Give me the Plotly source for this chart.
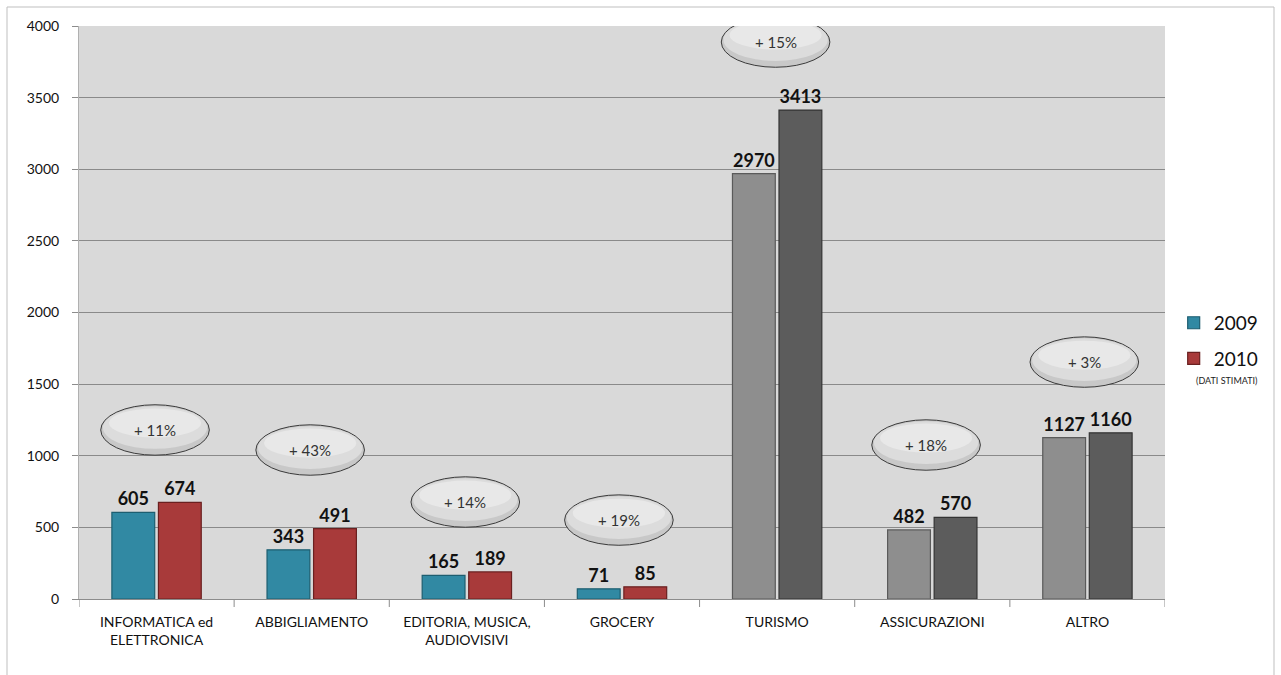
import plotly.graph_objects as go

categories = ["INFORMATICA ed<br>ELETTRONICA", "ABBIGLIAMENTO", "EDITORIA, MUSICA,<br>AUDIOVISIVI",
              "GROCERY", "TURISMO", "ASSICURAZIONI", "ALTRO"]
values_2009 = [605, 343, 165, 71, 2970, 482, 1127]
values_2010 = [674, 491, 189, 85, 3413, 570, 1160]
growth_labels = ["+ 11%", "+ 43%", "+ 14%", "+ 19%", "+ 15%", "+ 18%", "+ 3%"]
y_ticks = [0, 500, 1000, 1500, 2000, 2500, 3000, 3500, 4000]

# bubble centres (layout positions, in category index / axis units)
bubble_x = [-0.01, -0.01, -0.01, -0.02, -0.01, -0.04, -0.02]
bubble_y = [1180, 1040, 677, 551, 3888, 1075, 1654]

col09 = ["#3189a3"] * 4 + ["#8e8e8e"] * 3
col10 = ["#a83a3a"] * 4 + ["#5c5c5c"] * 3
edge09 = ["#1d5e70"] * 4 + ["#5a5a5a"] * 3
edge10 = ["#6a2020"] * 4 + ["#333333"] * 3

FONT = "Lato"
PW = 1086.0
PH = 573.0

fig = go.Figure()
fig.add_trace(go.Bar(
    x=list(range(len(categories))), y=values_2009, name="2009",
    marker=dict(color=col09, line=dict(color=edge09, width=1.2)),
    text=["<b>%d</b>" % v for v in values_2009], textposition="outside",
    textfont=dict(family=FONT, size=18, color="#111111"),
    cliponaxis=False, legendgroup="a",
))
fig.add_trace(go.Bar(
    x=list(range(len(categories))), y=values_2010, name="2010",
    marker=dict(color=col10, line=dict(color=edge10, width=1.2)),
    text=["<b>%d</b>" % v for v in values_2010], textposition="outside",
    textfont=dict(family=FONT, size=18, color="#111111"),
    cliponaxis=False, legendgroup="b",
))

shapes = []
annotations = []
hw, hh = 0.35, 176
for i, (lab, bx, by) in enumerate(zip(growth_labels, bubble_x, bubble_y)):
    cx = i + bx
    shapes.append(dict(type="circle", xref="x", yref="y", x0=cx - hw, x1=cx + hw,
                       y0=by - hh, y1=by + hh, fillcolor="#c8c8c8",
                       line=dict(color="#3a3a3a", width=1), layer="above"))
    shapes.append(dict(type="circle", xref="x", yref="y", x0=cx - hw * 0.96, x1=cx + hw * 0.96,
                       y0=by - hh * 0.75, y1=by + hh * 0.94, fillcolor="#dcdcdc",
                       line=dict(width=0), layer="above"))
    shapes.append(dict(type="circle", xref="x", yref="y", x0=cx - hw * 0.85, x1=cx + hw * 0.85,
                       y0=by - hh * 0.3, y1=by + hh * 0.85, fillcolor="#e8e8e8",
                       line=dict(width=0), layer="above"))
    annotations.append(dict(x=cx, y=by, xref="x", yref="y", text=lab, showarrow=False,
                            font=dict(family=FONT, size=15, color="#333333")))

# outer frame
shapes.append(dict(type="rect", xref="paper", yref="paper", x0=-72 / PW, x1=(1274 - 79) / PW,
                   y0=-1.2, y1=1.0 + 19 / PH, line=dict(color="#bfbfbf", width=1), layer="below"))

annotations.append(dict(x=(1226 - 79) / PW, y=(599 - 380) / PH, xref="paper", yref="paper",
                        xanchor="center", yanchor="middle",
                        text="(DATI STIMATI)", showarrow=False,
                        font=dict(family=FONT, size=9, color="#222222")))

fig.update_layout(
    width=1281, height=675,
    margin=dict(l=79, r=116, t=26, b=76, autoexpand=False),
    paper_bgcolor="white", plot_bgcolor="#d9d9d9",
    barmode="group", bargap=0.4, bargroupgap=0.08,
    font=dict(family=FONT, size=14, color="#111111"),
    showlegend=True,
    legend=dict(x=1.008, y=0.515, xanchor="left", yanchor="top",
                font=dict(family=FONT, size=19, color="#111111"),
                traceorder="grouped", tracegroupgap=8, bgcolor="rgba(0,0,0,0)"),
    shapes=shapes,
    annotations=annotations,
    xaxis=dict(tickmode="array", tickvals=list(range(len(categories))), ticktext=categories,
               range=[-0.5, len(categories) - 0.5], showgrid=False, showline=True,
               linecolor="#8c8c8c", linewidth=1, ticks="", zeroline=False,
               ticklabelstandoff=10,
               tickfont=dict(family=FONT, size=14, color="#111111")),
    yaxis=dict(range=[0, 4000], tickvals=y_ticks, showgrid=True, gridcolor="#8a8a8a", gridwidth=1,
               showline=True, linecolor="#b0b0b0", ticks="outside", ticklen=6, tickcolor="#8c8c8c",
               ticklabelstandoff=10,
               zeroline=False, tickfont=dict(family=FONT, size=14, color="#111111")),
)

# category separator ticks below the axis
for k in range(len(categories) + 1):
    fig.add_shape(type="line", xref="x", yref="paper", x0=k - 0.5, x1=k - 0.5,
                  y0=0, y1=-8 / PH, line=dict(color="#8c8c8c", width=1))

fig.write_html("out.html")
